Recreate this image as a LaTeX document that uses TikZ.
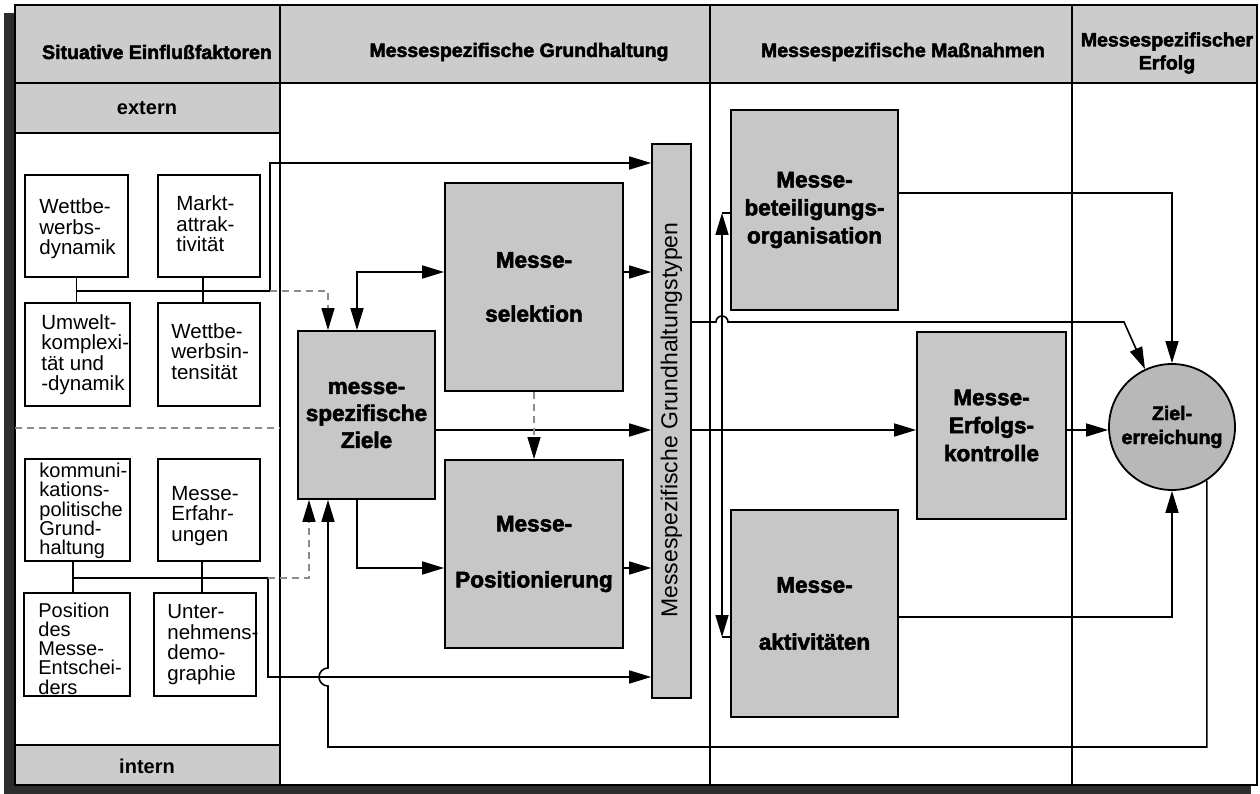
\documentclass[tikz,border=0pt]{standalone}
\usepackage{fontspec}
\setmainfont{Liberation Sans}
\newfontfamily\heavy{Liberation Sans}[UprightFont=* Bold, FakeBold=2.5]
\usetikzlibrary{arrows.meta,calc}
\definecolor{hdgray}{gray}{0.80}
\definecolor{boxgray}{gray}{0.78}
\definecolor{circgray}{gray}{0.72}
\definecolor{shadowc}{gray}{0.18}
\definecolor{dashc}{gray}{0.55}
\begin{document}
\begin{tikzpicture}[x=1pt,y=-1pt,
  hd/.style={font=\heavy\fontsize{19.5}{23}\selectfont, inner sep=0pt, align=center},
  sub/.style={font=\bfseries\fontsize{20}{22}\selectfont, inner sep=0pt},
  lbox/.style={draw, line width=1.6pt, fill=white, inner sep=0pt},
  ltxt/.style={anchor=west, align=left, inner sep=0pt, font=\fontsize{20.5}{20.5}\selectfont},
  ltxtfive/.style={anchor=west, align=left, inner sep=0pt, font=\fontsize{20}{19.3}\selectfont},
  gbox/.style={draw, line width=1.8pt, fill=boxgray, align=center, inner sep=0pt},
  conn/.style={line width=1.6pt},
  tip/.style={-{Triangle[length=22pt,width=13pt]}},
  arr/.style={conn, tip},
  arrtwo/.style={conn, {Triangle[length=22pt,width=13pt]}-{Triangle[length=22pt,width=13pt]}},
  dline/.style={draw=dashc, line width=1.3pt, dash pattern=on 7pt off 5pt,
     -{Triangle[length=22pt,width=13pt,color=black]}},
  frame/.style={line width=1.8pt}
]
\useasboundingbox (0,0) rectangle (1260,794);

% ---------- frame ----------
\fill[shadowc] (4,13) rectangle (1251,794);
\filldraw[fill=white, frame] (15,5) rectangle (1257,785);
\filldraw[fill=hdgray, frame] (15,5) rectangle (1257,83);
\filldraw[fill=hdgray, frame] (15,83) rectangle (280,133);
\filldraw[fill=hdgray, frame] (15,745) rectangle (280,785);
\foreach \x in {280,710,1072} \draw[frame] (\x,5) -- (\x,785);
\draw[draw=dashc, line width=1.2pt, dash pattern=on 7pt off 5pt] (15,428) -- (280,428);

% ---------- headers ----------
\node[hd] (h1) at (157,52) {Situative Einflußfaktoren};
\node[hd] (h2) at (519,52) {Messespezifische Grundhaltung};
\node[hd] (h3) at (903,52) {Messespezifische Maßnahmen};
\node[hd] (h4) at (1167,53) {Messespezifischer\\Erfolg};
\node[sub] (ext) at (147,108) {extern};
\node[sub] (int) at (147,766) {intern};

% ---------- left boxes ----------
\node[lbox, minimum width=103pt, minimum height=102pt] (wd) at (76.5,226) {};
\node[ltxt] (wdt) at ([xshift=15pt,yshift=-3pt]wd.west) {Wettbe-\\werbs-\\dynamik};
\node[lbox, minimum width=102pt, minimum height=102pt] (ma) at (209,226) {};
\node[ltxt] (mat) at ([xshift=19pt,yshift=2pt]ma.west) {Markt-\\attrak-\\tivität};
\node[lbox, minimum width=105pt, minimum height=103pt] (uk) at (77.5,354.5) {};
\node[ltxt] (ukt) at ([xshift=17pt]uk.west) {Umwelt-\\komplexi-\\tät und\\-dynamik};
\node[lbox, minimum width=102pt, minimum height=103pt] (wi) at (209,354.5) {};
\node[ltxt] (wit) at ([xshift=14pt,yshift=3pt]wi.west) {Wettbe-\\werbsin-\\tensität};
\node[lbox, minimum width=105pt, minimum height=102pt] (kp) at (77.5,510) {};
\node[ltxtfive] (kpt) at ([xshift=15pt,yshift=-1pt]kp.west) {kommuni-\\kations-\\politische\\Grund-\\haltung};
\node[lbox, minimum width=102pt, minimum height=102pt] (me) at (209,510) {};
\node[ltxt] (met) at ([xshift=14pt,yshift=-6pt]me.west) {Messe-\\Erfahr-\\ungen};
\node[lbox, minimum width=106pt, minimum height=103pt] (pm) at (77,644.5) {};
\node[ltxtfive] (pmt) at ([xshift=15pt,yshift=-4pt]pm.west) {Position\\des\\Messe-\\Entschei-\\ders};
\node[lbox, minimum width=102pt, minimum height=103pt] (ud) at (205,644.5) {};
\node[ltxt] (udt) at ([xshift=14pt]ud.west) {Unter-\\nehmens-\\demo-\\graphie};

% ---------- middle boxes ----------
\node[gbox, minimum width=137pt, minimum height=168pt, font=\heavy\fontsize{22.5}{27}\selectfont] (ziele) at (366.5,415) {messe-\\spezifische\\Ziele};
\node[gbox, minimum width=178pt, minimum height=208pt, font=\heavy\fontsize{22.5}{54}\selectfont] (sel) at (534,287) {Messe-\\selektion};
\node[gbox, minimum width=178pt, minimum height=188pt, font=\heavy\fontsize{22.5}{56}\selectfont] (pos) at (534,554) {Messe-\\Positionierung};
\node[gbox, line width=1.6pt, minimum width=39pt, minimum height=554pt] (bar) at (671.5,421) {};
\node[rotate=90, inner sep=0pt, font=\fontsize{23}{23}\selectfont] (bartxt) at (671.5,420) {Messespezifische Grundhaltungstypen};

% ---------- right boxes ----------
\node[gbox, minimum width=167pt, minimum height=200pt, font=\heavy\fontsize{22.5}{28}\selectfont] (bet) at (814.5,210) {Messe-\\beteiligungs-\\organisation};
\node[gbox, minimum width=149pt, minimum height=187pt, font=\heavy\fontsize{22.5}{28}\selectfont] (erf) at (991.5,425.5) {Messe-\\Erfolgs-\\kontrolle};
\node[gbox, minimum width=167pt, minimum height=207pt, font=\heavy\fontsize{22.5}{57}\selectfont] (akt) at (814.5,613.5) {Messe-\\aktivitäten};
\node[circle, draw, line width=1.8pt, fill=circgray, minimum size=126pt, inner sep=0pt, align=center,
      font=\heavy\fontsize{19.5}{24}\selectfont] (circ) at (1172,427) {Ziel-\\erreichung};

% ---------- routing coordinates ----------
\coordinate (jt) at (270,291);
\coordinate (jb) at (268,578);
\coordinate (topl) at (0,163);
\coordinate (botl) at (0,677);
\coordinate (vx1) at (73,0);
\coordinate (vx2) at (202,0);
\coordinate (vx3) at (203,0);
\coordinate (dxa) at (328,0);
\coordinate (dxb) at (309,0);
\coordinate (sx) at (357,0);
\coordinate (sy) at (0,272);
\coordinate (py) at (0,568);
\coordinate (zy) at (0,430);
\coordinate (hx) at (722,0);
\coordinate (hy) at (0,322);
\coordinate (by) at (0,193);
\coordinate (ay) at (0,617);
\coordinate (s1) at (0,213);
\coordinate (s2) at (0,637);
\coordinate (fb) at (0,747);
\coordinate (dg) at (1124,322);

% ---------- left connectors ----------
\draw[conn] (wd.south) -- (wd.south |- uk.north);
\draw[conn] (ma.south -| vx3) -- (wi.north -| vx3);
\draw[conn] (wd.south |- jt) -- (jt);
\draw[arr] (jt) -- (jt |- topl) -- (bar.west |- topl);
\draw[dline] (jt) -| (ziele.north -| dxa);

\draw[conn] (kp.south -| vx1) -- (pm.north -| vx1);
\draw[conn] (me.south -| vx2) -- (ud.north -| vx2);
\draw[conn] (vx1 |- jb) -- (jb);
\draw[arr] (jb) |- (bar.west |- botl);
\draw[dline] (jb) -| (ziele.south -| dxb);

% ---------- middle connectors ----------
\draw[arrtwo] (ziele.north -| sx) |- (sel.west |- sy);
\draw[arr] (ziele.south -| sx) |- (pos.west |- py);
\draw[arr] (ziele.east |- zy) -- (bar.west |- zy);
\draw[arr] (sel.east |- sy) -- (bar.west |- sy);
\draw[arr] (pos.east |- py) -- (bar.west |- py);
\draw[dline] (sel.south) -- (pos.north);

% ---------- right connectors ----------
\draw[arr] (bar.east |- hy) -- ([xshift=-6pt]hx |- hy) arc[start angle=180, end angle=360, radius=6] -- (dg) -- (circ.115);
\draw[arr] (bar.east |- zy) -- (erf.west |- zy);
\draw[arr] (erf.east |- zy) -- (circ.west |- zy);
\draw[arr] (bet.east |- by) -| (circ.north);
\draw[arr] (akt.east |- ay) -| (circ.south);
\draw[arrtwo] (hx |- s1) -- (hx |- s2);
\draw[conn] (hx |- s1) -- (bet.west |- s1);
\draw[conn] (hx |- s2) -- (akt.west |- s2);

% ---------- feedback ----------
\draw[arr] (circ.-57) -- (circ.-57 |- fb) -- (dxa |- fb) -- ++(0,-61) arc[start angle=90, end angle=270, radius=9] -- (ziele.south -| dxa);
\end{tikzpicture}
\end{document}
